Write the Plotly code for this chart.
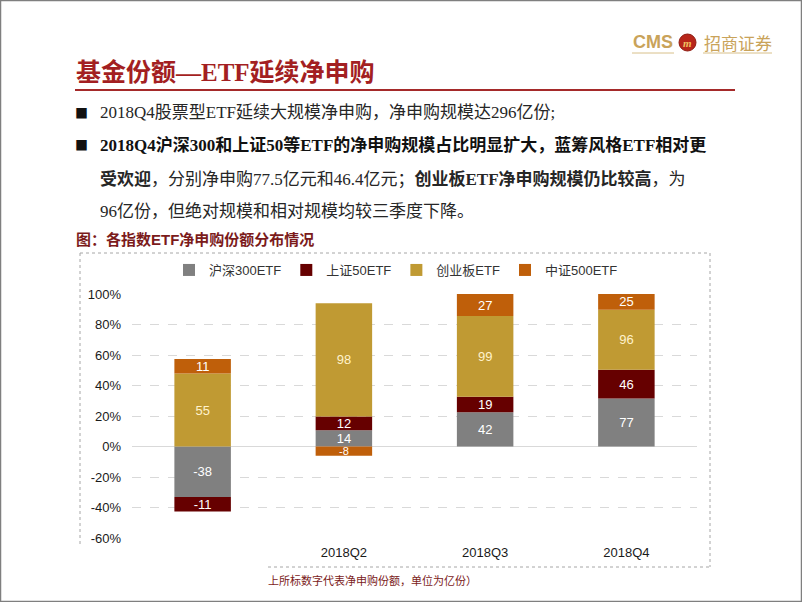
import plotly.graph_objects as go

# ---------------- data ----------------
categories = ["2018Q1", "2018Q2", "2018Q3", "2018Q4"]
tick_labels = ["", "2018Q2", "2018Q3", "2018Q4"]
series_names = ["沪深300ETF", "上证50ETF", "创业板ETF", "中证500ETF"]
hs300 = [-38, 14, 42, 77]
sz50 = [-11, 12, 19, 46]
cyb = [55, 98, 99, 96]
zz500 = [11, -8, 27, 25]
y_ticks = [-60, -40, -20, 0, 20, 40, 60, 80, 100]
y_tick_labels = ["-60%", "-40%", "-20%", "0%", "20%", "40%", "60%", "80%", "100%"]

series_values = [hs300, sz50, cyb, zz500]
colors = ["#808080", "#660000", "#c09a33", "#bf5f0a"]
label_colors = ["#ffffff", "#ffffff", "#fff2cc", "#ffffff"]

# share of each ETF in the total absolute net subscription of the quarter (%)
totals = [sum(abs(s[i]) for s in series_values) for i in range(len(categories))]
shares = [[v / t * 100 for v, t in zip(s, totals)] for s in series_values]

W, H = 802, 602
def X(px):
    return px / W
def Y(py):
    return 1 - py / H

CJK = "Noto Sans CJK SC"
SANS = "Liberation Sans, Arial, Noto Sans CJK SC"
SERIF = "Liberation Serif, Noto Sans CJK SC"

fig = go.Figure()
for name, vals, sh, c, lc in zip(series_names, series_values, shares, colors, label_colors):
    sizes = [13 if abs(p) > 8 else 11 for p in sh]
    fig.add_trace(go.Bar(
        x=categories, y=sh, name=name,
        marker=dict(color=c, line=dict(width=0)),
        text=[str(v) for v in vals], texttemplate="%{text}",
        textposition="inside", insidetextanchor="middle", textangle=0,
        constraintext="none",
        textfont=dict(color=lc, size=sizes, family=SANS),
        width=0.4, hoverinfo="skip",
    ))

fig.update_layout(
    width=W, height=H,
    margin=dict(l=0, r=0, t=0, b=0, pad=0, autoexpand=False),
    paper_bgcolor="white", plot_bgcolor="white",
    barmode="relative",
    showlegend=True,
    legend=dict(orientation="h", x=X(396), xanchor="center", y=Y(270), yanchor="middle",
                font=dict(family=SANS, size=13, color="#333333"),
                itemclick=False, itemdoubleclick=False, traceorder="normal",
                bgcolor="rgba(0,0,0,0)"),
    xaxis=dict(domain=[X(132), X(697)], tickmode="array", tickvals=categories, ticktext=tick_labels,
               showgrid=False, showline=False, ticks="", zeroline=False, automargin=False,
               ticklabelstandoff=5,
               tickfont=dict(family=SANS, size=13, color="#1a1a1a"), fixedrange=True),
    yaxis=dict(domain=[Y(538), Y(294)], range=[-60, 100], tickmode="array", tickvals=y_ticks,
               ticktext=y_tick_labels, automargin=False,
               showgrid=True, gridcolor="#d9d9d9", griddash="dash", gridwidth=1,
               zeroline=True, zerolinecolor="#d9d9d9", zerolinewidth=1, showline=False, ticks="",
               ticklabelstandoff=10,
               tickfont=dict(family=SANS, size=13, color="#1a1a1a"), fixedrange=True),
)

shapes = []
# page frame
shapes.append(dict(type="rect", xref="paper", yref="paper", x0=X(0.5), x1=X(801.5), y0=Y(601.5), y1=Y(0.5),
                   line=dict(color="#7f7f7f", width=1.5)))
# title underline
shapes.append(dict(type="line", xref="paper", yref="paper", x0=X(75), x1=X(735), y0=Y(90), y1=Y(90),
                   line=dict(color="#a52a2a", width=2)))
# logo underlines
for a, b in [(632, 674), (703, 772)]:
    shapes.append(dict(type="line", xref="paper", yref="paper", x0=X(a), x1=X(b), y0=Y(53), y1=Y(53),
                       line=dict(color="#d8c08a", width=1)))
# logo circle
shapes.append(dict(type="circle", xref="paper", yref="paper", x0=X(679), x1=X(696), y0=Y(51), y1=Y(34),
                   fillcolor="#b8261a", line=dict(color="#8e1c12", width=1)))
# dotted chart box
dot = dict(color="#a6a6a6", width=1, dash="dot")
shapes.append(dict(type="line", xref="paper", yref="paper", x0=X(80), x1=X(710), y0=Y(253), y1=Y(253), line=dot))
shapes.append(dict(type="line", xref="paper", yref="paper", x0=X(80), x1=X(80), y0=Y(253), y1=Y(547), line=dot))
shapes.append(dict(type="line", xref="paper", yref="paper", x0=X(710), x1=X(710), y0=Y(253), y1=Y(567), line=dot))
shapes.append(dict(type="line", xref="paper", yref="paper", x0=X(268), x1=X(710), y0=Y(567), y1=Y(567), line=dot))
fig.update_layout(shapes=shapes)

def note(text, x, y, size, color, family=CJK, xanchor="left"):
    fig.add_annotation(text=text, x=X(x), y=Y(y), xref="paper", yref="paper",
                       xanchor=xanchor, yanchor="middle", showarrow=False,
                       font=dict(size=size, color=color, family=family))

# logo
note("<b>CMS</b>", 631, 42, 18, "#c9a35a", family="Liberation Sans, Arial")
note("<i><b>m</b></i>", 687.5, 42.5, 11, "#f0c060", family="Liberation Serif", xanchor="center")
note("招商证券", 702, 42, 17, "#c9a35a")
# title
note("<b>基金份额—ETF延续净申购</b>", 74, 73, 25, "#a31f22", family=SERIF)
# bullets
note("■", 73, 112, 13, "#111111")
note("2018Q4股票型ETF延续大规模净申购，净申购规模达296亿份;", 98, 112, 17, "#262626", family=SERIF)
note("■", 73, 145, 13, "#111111")
note("<b>2018Q4沪深300和上证50等ETF的净申购规模占比明显扩大，蓝筹风格ETF相对更</b>", 98, 145, 17,
     "#111111", family=SERIF)
note("<b>受欢迎</b>，分别净申购77.5亿元和46.4亿元；<b>创业板ETF净申购规模仍比较高</b>，为", 98, 179, 17,
     "#262626", family=SERIF)
note("96亿份，但绝对规模和相对规模均较三季度下降。", 98, 212, 17, "#262626", family=SERIF)
# chart caption
note("<b>图：各指数ETF净申购份额分布情况</b>", 74, 240, 15, "#7b1b1b", family=SANS)
# footer note
note("上所标数字代表净申购份额，单位为亿份）", 266, 580, 11, "#7b1b1b", family=SANS)

fig.write_html("out.html", config={"displayModeBar": False, "staticPlot": True},
               post_script="document.body.style.margin='0px';document.body.style.overflow='hidden';")
